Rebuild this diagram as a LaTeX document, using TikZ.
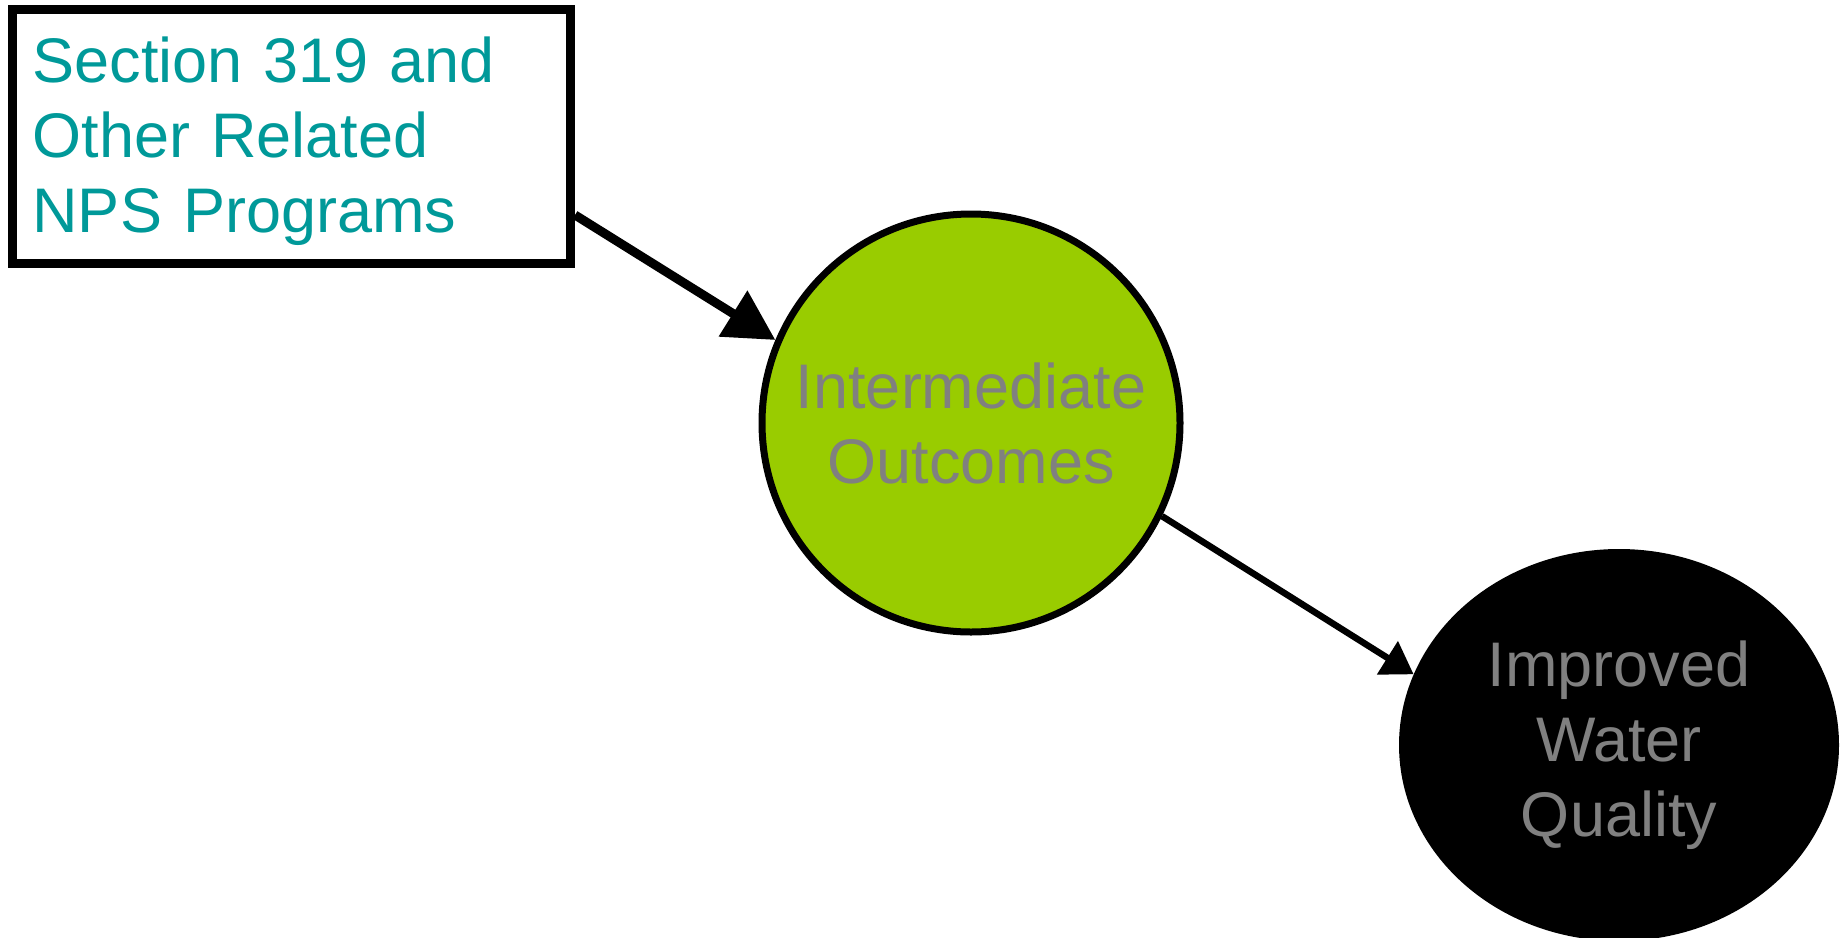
\documentclass[tikz,border=0pt]{standalone}
\usepackage{fontspec}
\setmainfont{Liberation Sans}
\usetikzlibrary{shapes.geometric,arrows.meta,positioning,calc}
\definecolor{tealtext}{HTML}{009999}
\definecolor{limegreen}{HTML}{99CC00}
\definecolor{labelgray}{HTML}{808080}

\begin{document}
\begin{tikzpicture}[x=1pt,y=1pt,
    bigtext/.style={font=\fontsize{63}{75}\selectfont},
    program/.style={draw, line width=9pt, bigtext, text=tealtext, align=left,
      text width=518pt, inner xsep=20pt, minimum height=254pt, anchor=north west},
    outcome/.style={circle, draw, line width=7pt, fill=limegreen, bigtext,
      text=labelgray, align=center, minimum size=418pt, inner sep=0pt},
    goal/.style={ellipse, fill=black, bigtext, text=labelgray, align=center,
      minimum width=440pt, minimum height=392pt, inner sep=0pt}]
  \useasboundingbox (0,0) rectangle (1843,-937);
  % program box, outcome circle, goal ellipse
  \node[program] (prog) at (8,-5) {\rule{0pt}{56pt}Section 319 and\\Other Related\\NPS Programs};
  \node[outcome] (inter) at (971,-423) {Intermediate\\Outcomes};
  \node[goal] (water) at (1619,-745) {Improved\\Water\\Quality};
  % links
  \draw[line width=9pt, -{Triangle[length=50pt,width=52pt]}] ([yshift=53pt]prog.south east) -- (inter.157);
  \draw[line width=6.5pt, -{Triangle[length=31pt,width=38pt]}] (inter.-26) -- (water.161);
\end{tikzpicture}
\end{document}
